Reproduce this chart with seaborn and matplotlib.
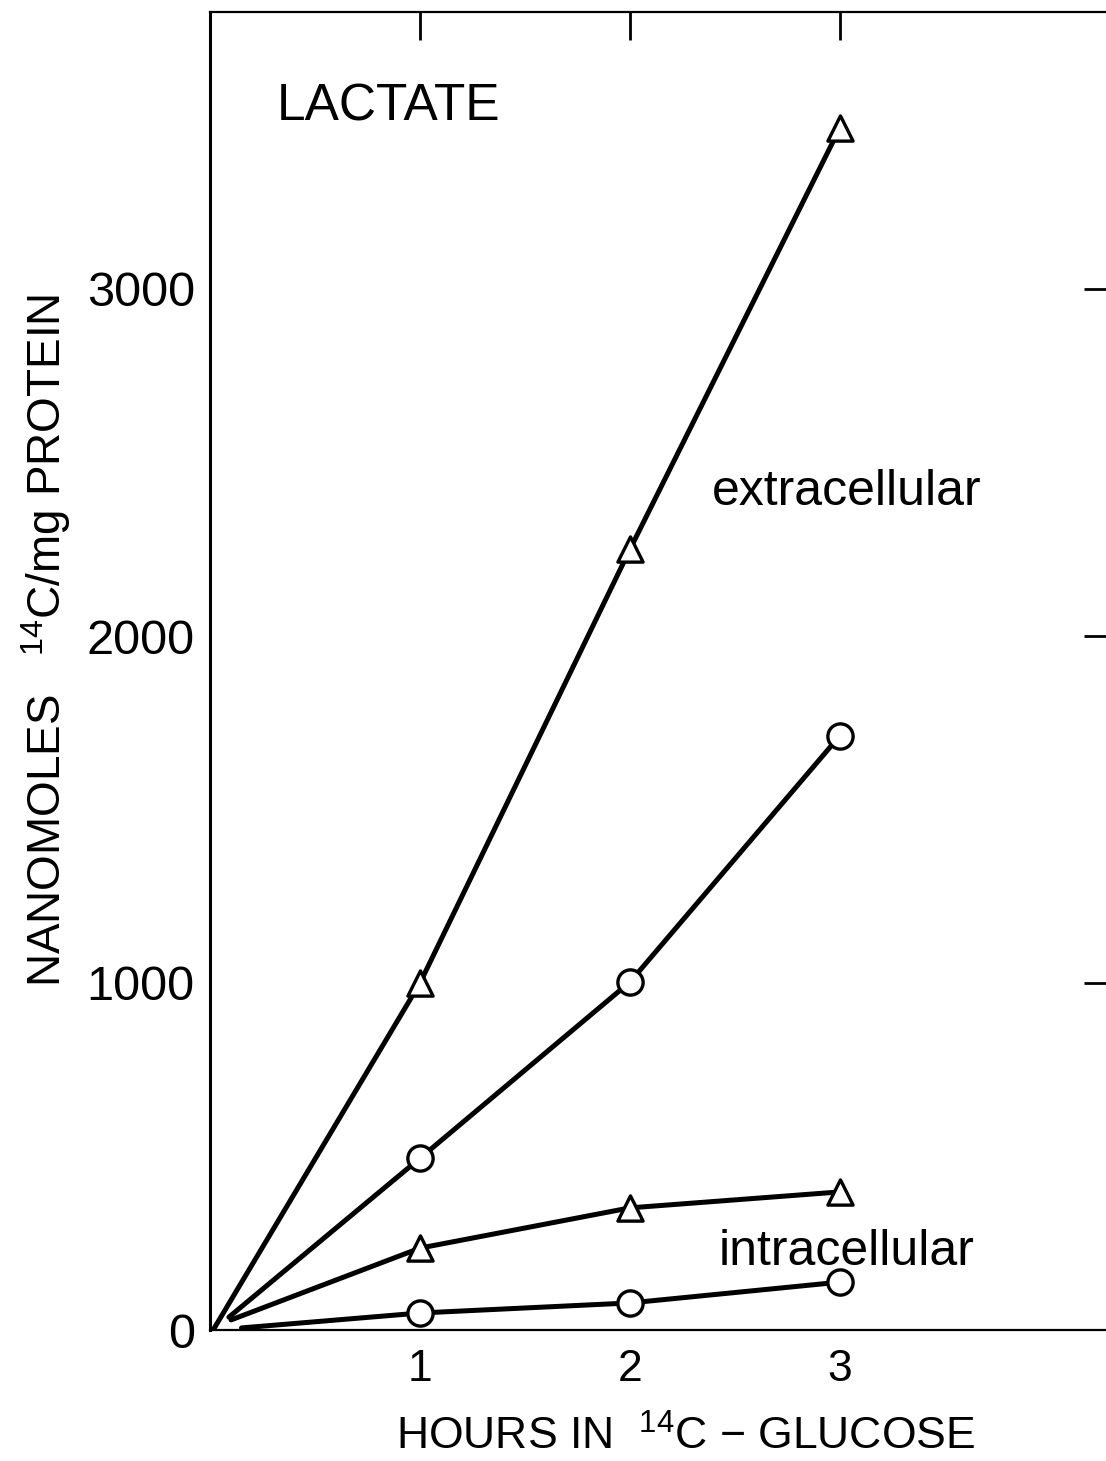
import numpy as np
import pandas as pd
import matplotlib
matplotlib.use("Agg")
import matplotlib.pyplot as plt
import seaborn as sns

# values (nanomoles 14C / mg protein)
hours = [1, 2, 3]
extra_tri = [1000, 2250, 3465]
extra_circ = [495, 1003, 1713]
intra_tri = [236, 352, 398]
intra_circ = [49, 78, 138]

# where each line starts near the origin
start_x = [0.02, 0.09, 0.1, 0.15]
start_y = [5, 37, 29, 6]

series = {
    "extra_tri": (extra_tri, "^"),
    "extra_circ": (extra_circ, "o"),
    "intra_tri": (intra_tri, "^"),
    "intra_circ": (intra_circ, "o"),
}

sns.set_theme(style="white")
plt.rcParams['font.family'] = ['Liberation Sans', 'DejaVu Sans']
plt.rcParams['mathtext.fontset'] = 'custom'
plt.rcParams['mathtext.rm'] = 'Liberation Sans'
plt.rcParams['mathtext.it'] = 'Liberation Sans'
for k in ['text.color', 'axes.labelcolor', 'xtick.color', 'ytick.color']:
    plt.rcParams[k] = 'black'

fig = plt.figure(figsize=(11.06, 14.61), dpi=100)
ax = fig.add_axes([210/1106, 131/1461, 896/1106, 1318/1461])

for i, (name, (vals, mk)) in enumerate(series.items()):
    df = pd.DataFrame({"x": [start_x[i]] + hours, "y": [start_y[i]] + vals})
    sns.lineplot(data=df, x="x", y="y", ax=ax, color="black", lw=3.6,
                 sort=False, estimator=None)
    sns.scatterplot(x=hours, y=vals, ax=ax, marker=mk, s=330,
                    facecolor="white", edgecolor="black", linewidth=2.4,
                    zorder=5)

ax.set_xlim(0, 896/210)
ax.set_ylim(0, 1318/0.347)

ax.set_xticks(hours)
ax.set_xticklabels(["1", "2", "3"], fontsize=32)
ax.set_yticks([0, 1000, 2000, 3000])
ax.set_yticklabels(["0", "1000", "2000", "3000"], fontsize=35)
ax.tick_params(axis="x", direction="in", length=6, width=2, pad=14)
ax.tick_params(axis="y", direction="in", length=7, width=2, pad=11)

for s in ["top", "bottom"]:
    ax.spines[s].set_linewidth(1.6)
    ax.spines[s].set_color("black")
ax.spines["left"].set_linewidth(2.2)
ax.spines["left"].set_color("black")
ax.spines["right"].set_visible(False)

top = ax.secondary_xaxis("top")
top.set_xticks(hours)
top.set_xticklabels([])
top.tick_params(direction="in", length=20, width=2)
top.spines["top"].set_visible(False)

right = ax.secondary_yaxis("right")
right.set_yticks([1000, 2000, 3000])
right.set_yticklabels([])
right.tick_params(direction="in", length=16, width=2)
right.spines["right"].set_visible(False)

ax.set_xlabel(r"HOURS IN  $^{14}$C $-$ GLUCOSE", fontsize=32)
ax.xaxis.set_label_coords((686-210)/896, (1330-1437)/1318)
ax.xaxis.label.set_va("center")
ax.set_ylabel(r"NANOMOLES   $^{14}$C/mg PROTEIN", fontsize=33)
ax.yaxis.set_label_coords((46-210)/896, (1330-640)/1318)
ax.yaxis.label.set_va("center")

ax.text(0.32, 3487, "LACTATE", fontsize=37, va="baseline")
ax.text(2.39, 2377, "extracellular", fontsize=36, va="baseline")
ax.text(2.42, 187, "intracellular", fontsize=36, va="baseline")

fig.savefig("out.png", dpi=100)
